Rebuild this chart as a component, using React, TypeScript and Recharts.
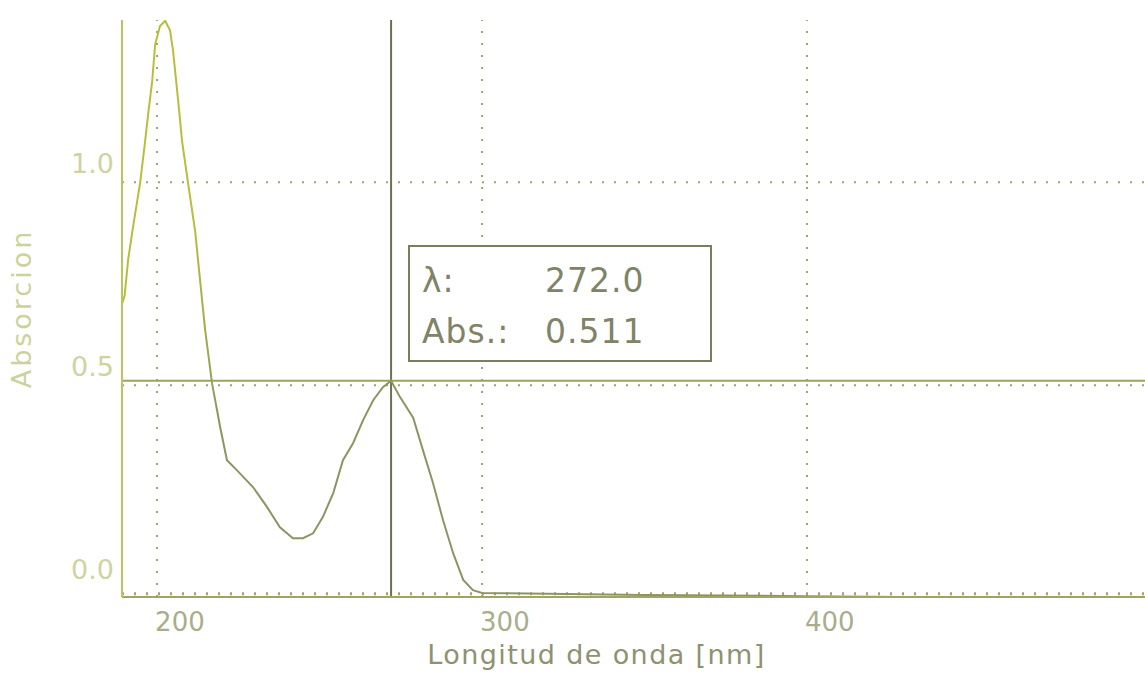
import { LineChart, Line, XAxis, YAxis, ReferenceLine, Label } from 'recharts';

// --- UV spectrum (nm / absorbance) ---
const wavelength = [
  189.2, 190, 191.1, 192.6, 194.8, 196.3, 197.2, 198.5, 199.4, 200.9, 202.5, 204.0, 204.9,
  206.5, 207.7, 209.5, 211.7, 213.2, 214.8, 216.9, 219.4, 221.5, 224.6, 229.5, 233.8,
  237.8, 241.8, 244.9, 248.0, 251.0, 254.2, 257.2, 260.3, 263.4, 266.5, 269.5, 272.0,
  274.8, 278.8, 281.8, 284.9, 288.0, 291.1, 294.2, 297.2, 300, 350, 400, 450, 504,
];
const absorbance = [
  0.70, 0.72, 0.81, 0.89, 1.0, 1.10, 1.165, 1.25, 1.34, 1.385, 1.398, 1.374, 1.325,
  1.20, 1.10, 1.0, 0.88, 0.76, 0.635, 0.505, 0.397, 0.315, 0.29, 0.249, 0.20,
  0.15, 0.123, 0.123, 0.135, 0.175, 0.234, 0.315, 0.357, 0.414, 0.463, 0.495, 0.511,
  0.47, 0.42, 0.34, 0.259, 0.167, 0.086, 0.02, -0.005, -0.012, -0.017, -0.02, -0.023, -0.026,
];

const xTicks = [200, 300, 400];
const yTicks = [0, 0.5, 1.0];
const gridX = [200, 300, 400];
const gridY = [0.5, 1.0];

// cursor read-out shown in the box
const cursorNm = 272.0;
const cursorAbs = 0.511;

const data = wavelength.map((nm, i) => ({ nm, abs: absorbance[i] }));

const FONT = '"DejaVu Sans", sans-serif';

const XTick = ({ x, y, payload }: any) => (
  <text x={x - 2} y={y + 34} textAnchor="start" fill="#a9ad8a" fontFamily={FONT} fontSize={26}>
    {payload.value}
  </text>
);

const YTick = ({ x, y, payload }: any) => (
  <text x={x - 8} y={y - 9} textAnchor="end" fill="#cfd3a0" fontFamily={FONT} fontSize={27}>
    {Number(payload.value).toFixed(1)}
  </text>
);

export default function App() {
  return (
    <div style={{ position: 'absolute', left: 0, top: 0, width: 1145, height: 690, background: '#fff', overflow: 'hidden' }}>
      <LineChart width={1145} height={690} data={data} margin={{ top: 20, right: 0, bottom: 43, left: 62 }}>
        <defs>
          <linearGradient id="curveGrad" x1="0" y1="0" x2="1" y2="0">
            <stop offset="0%" stopColor="#b6bf3c" />
            <stop offset="7%" stopColor="#b6bf3c" />
            <stop offset="9.5%" stopColor="#8c9562" />
            <stop offset="100%" stopColor="#8c9562" />
          </linearGradient>
        </defs>
        <XAxis
          type="number"
          dataKey="nm"
          domain={[189.2, 504]}
          ticks={xTicks}
          height={50}
          tickSize={0}
          tickMargin={0}
          tick={<XTick />}
          axisLine={{ stroke: '#a3a366', strokeWidth: 2 }}
          tickLine={false}
        >
          <Label
            content={({ viewBox }: any) => (
              <text
                x={viewBox.x + viewBox.width / 2 - 37}
                y={664}
                textAnchor="middle"
                fill="#8f916f"
                fontFamily={FONT}
                fontSize={27}
                letterSpacing={1.4}
              >
                Longitud de onda [nm]
              </text>
            )}
          />
        </XAxis>
        <YAxis
          type="number"
          domain={[-0.022, 1.4]}
          allowDataOverflow
          ticks={yTicks}
          width={60}
          tickSize={0}
          tickMargin={0}
          tick={<YTick />}
          axisLine={{ stroke: '#bcc55c', strokeWidth: 2 }}
          tickLine={false}
        >
          <Label
            content={({ viewBox }: any) => {
              const cy = viewBox.y + viewBox.height / 2;
              return (
                <text
                  x={31}
                  y={cy}
                  transform={`rotate(-90 31 ${cy})`}
                  textAnchor="middle"
                  fill="#cdd29c"
                  fontFamily={FONT}
                  fontSize={27}
                  letterSpacing={3}
                >
                  Absorcion
                </text>
              );
            }}
          />
        </YAxis>

        {gridX.map((v) => (
          <ReferenceLine key={`gx-${v}`} x={v} stroke="#9ea276" strokeWidth={2} strokeDasharray="2 10" />
        ))}
        {gridY.map((v) => (
          <ReferenceLine key={`gy-${v}`} y={v} stroke="#9ea276" strokeWidth={2} strokeDasharray="2 10" />
        ))}
        {/* small tick marks sitting on the bottom axis */}
        <ReferenceLine y={-0.014} stroke="#a3a366" strokeWidth={3} strokeDasharray="2 10" />

        <ReferenceLine x={cursorNm} stroke="#6d7254" strokeWidth={2} />
        <ReferenceLine y={cursorAbs} stroke="#98a55e" strokeWidth={2} />

        <Line
          type="linear"
          dataKey="abs"
          stroke="url(#curveGrad)"
          strokeWidth={2}
          dot={false}
          activeDot={false}
          isAnimationActive={false}
        />
      </LineChart>

      <svg width={1145} height={690} style={{ position: 'absolute', left: 0, top: 0, pointerEvents: 'none' }}>
        <rect x={409} y={246} width={302} height={115} fill="#fff" stroke="#7b7e5c" strokeWidth={2} />
        <g fill="#808366" fontFamily={FONT} fontSize={33} letterSpacing={1}>
          <text x={422} y={292}>λ:</text>
          <text x={545} y={292}>{cursorNm.toFixed(1)}</text>
          <text x={422} y={343}>Abs.:</text>
          <text x={545} y={343}>{cursorAbs.toFixed(3)}</text>
        </g>
      </svg>
    </div>
  );
}
